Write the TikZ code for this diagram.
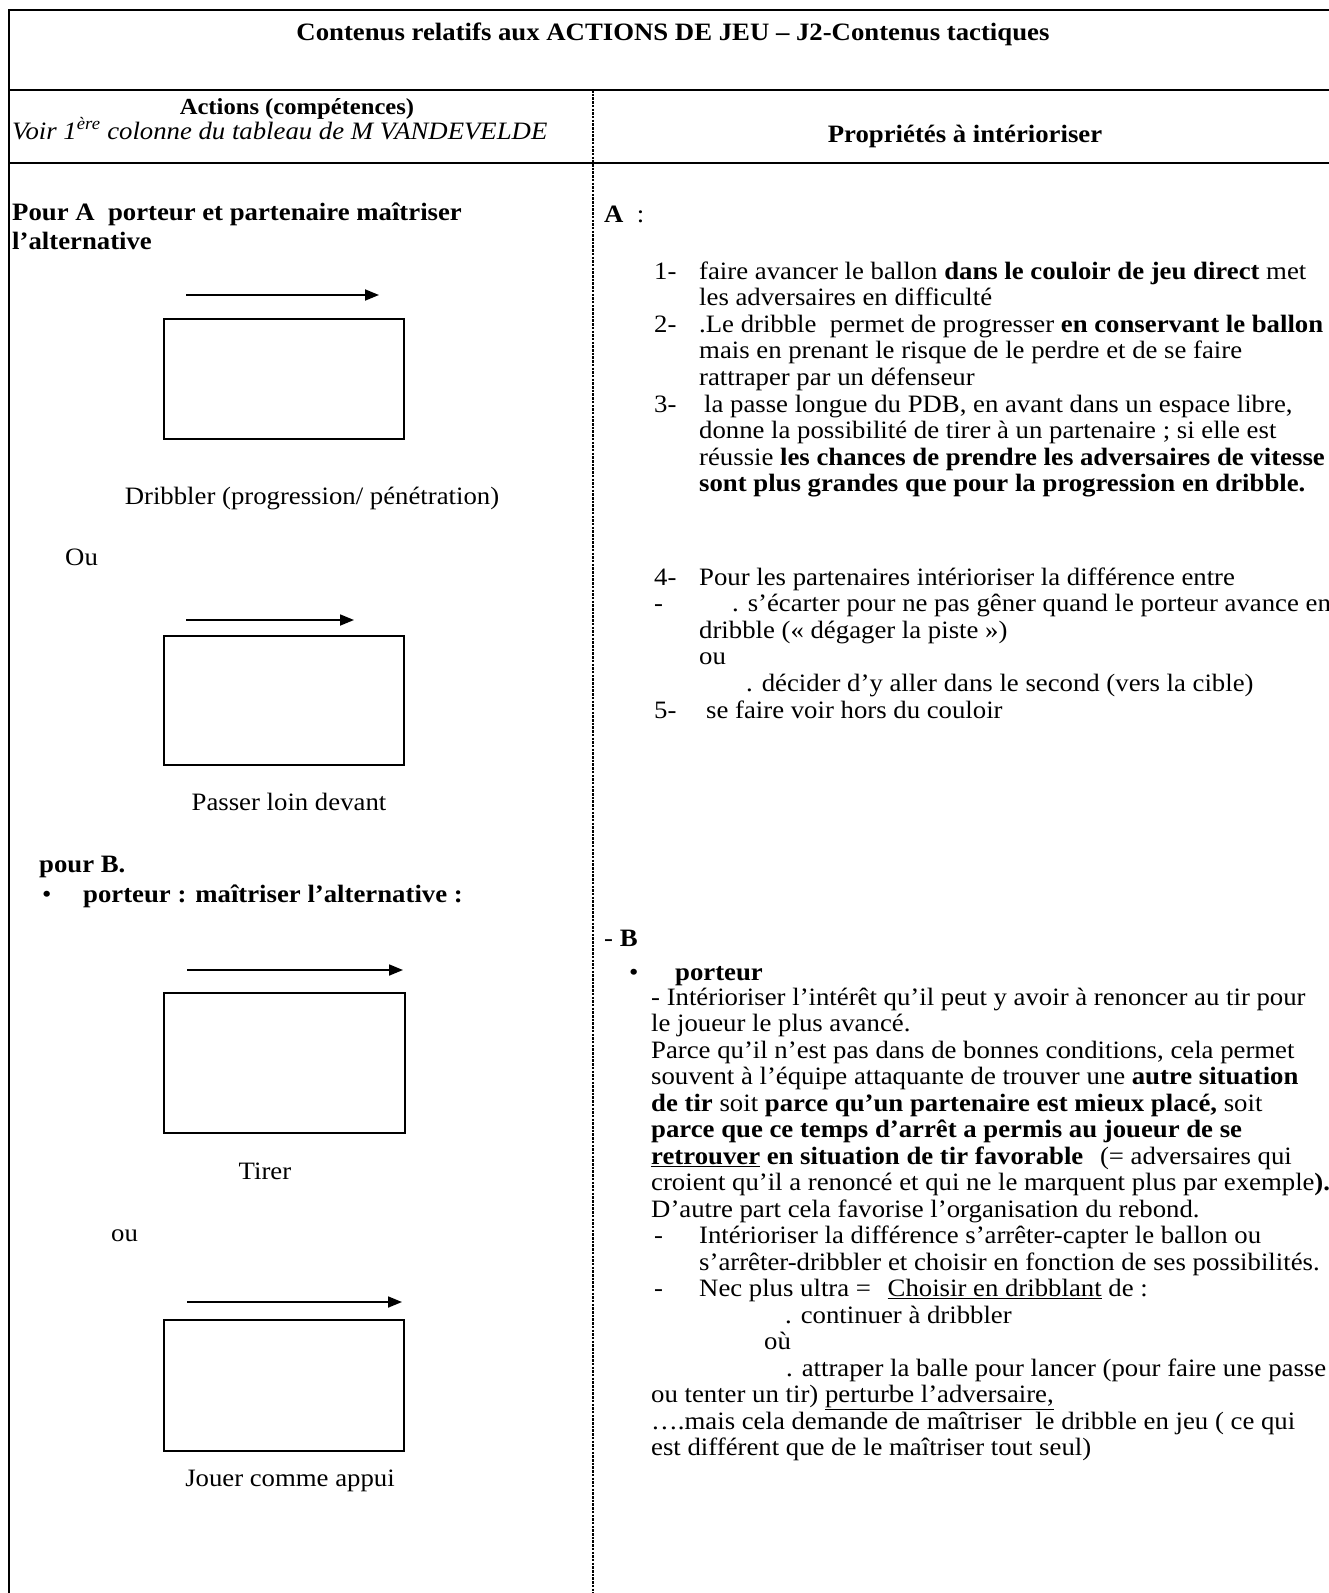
\documentclass[tikz,border=0pt]{standalone}
\usepackage{fontspec}
\setmainfont{Liberation Serif}[FakeStretch=1.07]
\usetikzlibrary{arrows.meta}
\newcommand\mainsz{\fontsize{25}{26.6}\selectfont}
\newcommand\headsz{\fontsize{23}{25}\selectfont}
\tikzset{
  txt/.style={anchor=base west, inner sep=0pt, font=\mainsz},
  ctxt/.style={anchor=base, inner sep=0pt, font=\mainsz},
  frame/.style={line width=2.8pt},
  divline/.style={line width=1.2pt, dash pattern=on 2.5pt off 1.2pt},
  fieldbox/.style={draw, line width=1.8pt, inner sep=0pt},
  arr/.style={line width=1.8pt, -{Triangle[length=14pt,width=11pt]}},
}
\begin{document}
\begin{tikzpicture}[x=1pt,y=-1pt]
\useasboundingbox (0,0) rectangle (1329,1593);
% frame
\coordinate (tl) at (9,10);
\coordinate (tr) at (1345,10);
\coordinate (bl) at (9,1600);
\coordinate (h1l) at (9,90);
\coordinate (h1r) at (1345,90);
\coordinate (h2l) at (9,163);
\coordinate (h2r) at (1345,163);
\coordinate (dvt) at (593,90);
\coordinate (dvb) at (593,1600);
\draw[frame] (bl) -- (tl) -- (tr);
\draw[frame] (h1l) -- (h1r);
\draw[frame] (h2l) -- (h2r);
\draw[divline] (dvt) -- (dvb);

% header
\node[ctxt] (title) at (673,40) {\textbf{Contenus relatifs aux ACTIONS DE JEU – J2-Contenus tactiques}};
\node[ctxt, font=\headsz] (hA) at (297,114) {\textbf{Actions (compétences)}};
\node[txt] (hV) at (12,139) {\textit{Voir 1\textsuperscript{ère} colonne du tableau de M VANDEVELDE}};
\node[ctxt] (hP) at (965,142) {\textbf{Propriétés à intérioriser}};

% left column
\node[txt] (pa1) at (12,220) {\textbf{Pour A\ \ porteur et partenaire maîtriser}};
\node[txt] (pa2) at (12,249) {\textbf{l’alternative}};

\coordinate (a1s) at (186,295); \coordinate (a1e) at (379,295);
\draw[arr] (a1s) -- (a1e);
\node[fieldbox, minimum width=240pt, minimum height=120pt, anchor=north west] (b1) at (163,318) {};
\node[ctxt] (c1) at (312,504) {Dribbler (progression/ pénétration)};
\node[txt] (ou1) at (65,565) {Ou};

\coordinate (a2s) at (186,620); \coordinate (a2e) at (354,620);
\draw[arr] (a2s) -- (a2e);
\node[fieldbox, minimum width=240pt, minimum height=129pt, anchor=north west] (b2) at (163,635) {};
\node[ctxt] (c2) at (289,810) {Passer loin devant};

\node[txt] (pb1) at (39,872) {\textbf{pour B.}};
\node[txt] (pbb) at (42,902) {\textbullet};
\node[txt] (pb2) at (83,902) {\textbf{porteur : maîtriser l’alternative :}};

\coordinate (a3s) at (187,970); \coordinate (a3e) at (403,970);
\draw[arr] (a3s) -- (a3e);
\node[fieldbox, minimum width=241pt, minimum height=140pt, anchor=north west] (b3) at (163,992) {};
\node[ctxt] (c3) at (265,1179) {Tirer};
\node[txt] (ou2) at (111,1241) {ou};

\coordinate (a4s) at (187,1302); \coordinate (a4e) at (402,1302);
\draw[arr] (a4s) -- (a4e);
\node[fieldbox, minimum width=240pt, minimum height=131pt, anchor=north west] (b4) at (163,1319) {};
\node[ctxt] (c4) at (290,1486) {Jouer comme appui};

% right column, A
\node[txt] (rA) at (604,222) {\textbf{A}\ \ :};
\node[txt] (n1) at (654,279) {1-};
\node[txt] (t1a) at (699,279) {faire avancer le ballon \textbf{dans le couloir de jeu direct} met};
\node[txt] (t1b) at (699,305.6) {les adversaires en difficulté};
\node[txt] (n2) at (654,332.2) {2-};
\node[txt] (t2a) at (699,332.2) {.Le dribble\ \ permet de progresser \textbf{en conservant le ballon}};
\node[txt] (t2b) at (699,358.8) {mais en prenant le risque de le perdre et de se faire};
\node[txt] (t2c) at (699,385.4) {rattraper par un défenseur};
\node[txt] (n3) at (654,412) {3-};
\node[txt] (t3a) at (704,412) {la passe longue du PDB, en avant dans un espace libre,};
\node[txt] (t3b) at (699,438.6) {donne la possibilité de tirer à un partenaire ; si elle est};
\node[txt] (t3c) at (699,465.2) {réussie \textbf{les chances de prendre les adversaires de vitesse}};
\node[txt] (t3d) at (699,491.8) {\textbf{sont plus grandes que pour la progression en dribble.}};
\node[txt] (n4) at (654,585) {4-};
\node[txt] (t4a) at (699,585) {Pour les partenaires intérioriser la différence entre};
\node[txt] (d4) at (654,611.6) {-};
\node[txt] (t4b) at (732,611.6) {. s’écarter pour ne pas gêner quand le porteur avance en};
\node[txt] (t4c) at (699,638.2) {dribble (« dégager la piste »)};
\node[txt] (t4d) at (699,664.8) {ou};
\node[txt] (t4e) at (746,691.4) {. décider d’y aller dans le second (vers la cible)};
\node[txt] (n5) at (654,718) {5-};
\node[txt] (t5a) at (706,718) {se faire voir hors du couloir};

% right column, B
\node[txt] (rB) at (604,946) {- \textbf{B}};
\node[txt] (bb) at (629,980) {\textbullet};
\node[txt] (bp) at (675,980) {\textbf{porteur}};
\node[txt] (l0) at (651,1005) {- Intérioriser l’intérêt qu’il peut y avoir à renoncer au tir pour};
\node[txt] (l1) at (651,1031.5) {le joueur le plus avancé.};
\node[txt] (l2) at (651,1058) {Parce qu’il n’est pas dans de bonnes conditions, cela permet};
\node[txt] (l3) at (651,1084.5) {souvent à l’équipe attaquante de trouver une \textbf{autre situation}};
\node[txt] (l4) at (651,1111) {\textbf{de tir} soit \textbf{parce qu’un partenaire est mieux placé,} soit};
\node[txt] (l5) at (651,1137.5) {\textbf{parce que ce temps d’arrêt a permis au joueur de se}};
\node[txt] (l6) at (651,1164) {\textbf{\underline{retrouver} en situation de tir favorable}\hspace{0.4em} (= adversaires qui};
\node[txt] (l7) at (651,1190.5) {croient qu’il a renoncé et qui ne le marquent plus par exemple\textbf{).}};
\node[txt] (l8) at (651,1217) {D’autre part cela favorise l’organisation du rebond.};
\node[txt] (d9) at (654,1243.5) {-};
\node[txt] (l9) at (699,1243.5) {Intérioriser la différence s’arrêter-capter le ballon ou};
\node[txt] (l10) at (699,1270) {s’arrêter-dribbler et choisir en fonction de ses possibilités.};
\node[txt] (d11) at (654,1296.5) {-};
\node[txt] (l11) at (699,1296.5) {Nec plus ultra =\hspace{0.4em} \underline{Choisir en dribblant} de :};
\node[txt] (l12) at (785,1323) {. continuer à dribbler};
\node[txt] (l13) at (764,1349.5) {où};
\node[txt] (l14) at (786,1376) {. attraper la balle pour lancer (pour faire une passe};
\node[txt] (l15) at (651,1402.5) {ou tenter un tir) \underline{perturbe l’adversaire,}};
\node[txt] (l16) at (651,1429) {….mais cela demande de maîtriser\ \ le dribble en jeu ( ce qui};
\node[txt] (l17) at (651,1455.5) {est différent que de le maîtriser tout seul)};
\end{tikzpicture}
\end{document}
